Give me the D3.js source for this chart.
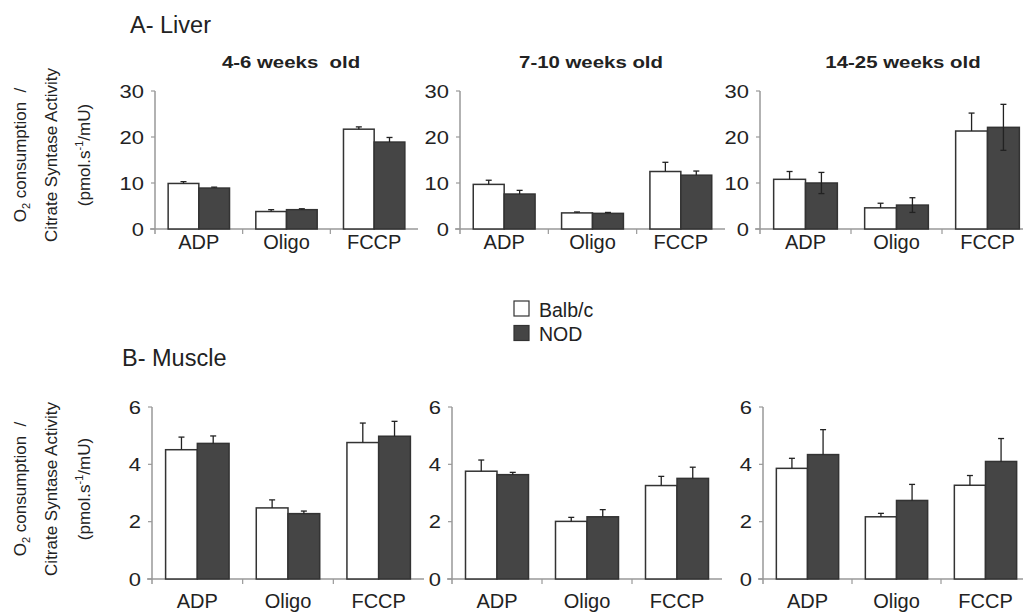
<!DOCTYPE html>
<html>
<head>
<meta charset="utf-8">
<script src="https://cdn.jsdelivr.net/npm/d3@7"></script>
<style>
  body { margin: 0; background: #fff; }
  svg { font-family: "Liberation Sans", Arial, sans-serif; }
</style>
</head>
<body>
<svg id="chart" width="1023" height="613"></svg>
<script>
// categories / groups
const categories = ['ADP', 'Oligo', 'FCCP'];
const groups = ['Balb/c', 'NOD'];
const ageTitles = ['4-6 weeks  old', '7-10 weeks old', '14-25 weeks old'];

// A- Liver (one row per age group)
const liverBalb    = [[9.9, 3.8, 21.7], [9.7, 3.5, 12.5], [10.8, 4.6, 21.3]];
const liverBalbErr = [[0.4, 0.4, 0.5],  [0.9, 0.2, 2.0],  [1.7, 1.0, 3.9]];
const liverNod     = [[8.9, 4.2, 18.9], [7.6, 3.4, 11.7], [10.0, 5.2, 22.1]];
const liverNodErr  = [[0.2, 0.2, 1.0],  [0.8, 0.2, 0.9],  [2.3, 1.6, 5.0]];
const liverTicks = [0, 10, 20, 30];

// B- Muscle
const muscleBalb    = [[4.51, 2.48, 4.76], [3.76, 2.01, 3.26], [3.86, 2.17, 3.27]];
const muscleBalbErr = [[0.44, 0.28, 0.68], [0.39, 0.14, 0.32], [0.35, 0.12, 0.34]];
const muscleNod     = [[4.73, 2.28, 4.98], [3.64, 2.17, 3.51], [4.34, 2.74, 4.10]];
const muscleNodErr  = [[0.26, 0.09, 0.52], [0.08, 0.25, 0.39], [0.87, 0.56, 0.80]];
const muscleTicks = [0, 2, 4, 6];

const svg = d3.select('#chart');
const TEXT = '#222';
const AXIS = '#999';
const DARK = '#454545';

// text that is a bit wider than the font (the figure is stretched sideways)
function label(sel, x, y, str, size, opts) {
  opts = opts || {};
  return sel.append('text')
    .attr('transform', 'translate(' + x + ',' + y + ') scale(' + (opts.sx || 1) + ',1)')
    .attr('text-anchor', opts.anchor || 'start')
    .attr('font-size', size)
    .attr('font-weight', opts.bold ? 'bold' : 'normal')
    .attr('fill', TEXT)
    .style('white-space', 'pre')
    .text(str);
}

// panel placement
const rows = [
  {
    title: 'A- Liver', titleX: 130, titleY: 33, ymax: 30, ticks: liverTicks,
    y0: 229, y1: 91, labelY: 249, yTitleC: 155,
    x0: [155, 460, 760], w: [263, 265, 273],
    balb: liverBalb, balbErr: liverBalbErr, nod: liverNod, nodErr: liverNodErr,
    twoSided: [false, false, true], showTitles: true
  },
  {
    title: 'B- Muscle', titleX: 122, titleY: 366, ymax: 6, ticks: muscleTicks,
    y0: 579, y1: 407, labelY: 608, yTitleC: 489,
    x0: [152, 452, 763], w: [272, 270, 267],
    balb: muscleBalb, balbErr: muscleBalbErr, nod: muscleNod, nodErr: muscleNodErr,
    twoSided: [false, false, false], showTitles: false
  }
];

rows.forEach((row) => {
  label(svg, row.titleX, row.titleY, row.title, 23.5);

  // y axis title (3 rotated lines)
  const yTitle = [
    {x: 26, t: 'o2'},
    {x: 57, t: 'Citrate Syntase Activity'},
    {x: 90, t: 'unit'}
  ];
  yTitle.forEach((l) => {
    const t = svg.append('text')
      .attr('transform', 'translate(' + l.x + ',' + row.yTitleC + ') rotate(-90)')
      .attr('text-anchor', 'middle')
      .attr('font-size', 17)
      .attr('fill', TEXT)
      .style('white-space', 'pre');
    if (l.t === 'o2') {
      t.append('tspan').text('O');
      t.append('tspan').attr('font-size', 11).attr('dy', 4).text('2');
      t.append('tspan').attr('dy', -4).text(' consumption  /');
    } else if (l.t === 'unit') {
      t.append('tspan').text('(pmol.s');
      t.append('tspan').attr('font-size', 11).attr('dy', -7).text('-1');
      t.append('tspan').attr('dy', 7).text('/mU)');
    } else {
      t.text(l.t);
    }
  });

  for (let p = 0; p < 3; p++) {
    const left = row.x0[p];
    const sx = d3.scaleBand().domain(categories).range([left, left + row.w[p]]);
    const sy = d3.scaleLinear().domain([0, row.ymax]).range([row.y0, row.y1]);
    const g = svg.append('g');
    const bw = sx.bandwidth() * 0.35;

    if (row.showTitles) {
      label(g, left + [136, 131, 143][p], 68, ageTitles[p], 17, {anchor: 'middle', bold: true, sx: 1.2});
    }

    // axes
    g.append('line')
      .attr('x1', left).attr('x2', left)
      .attr('y1', sy(row.ymax)).attr('y2', row.y0 + 5)
      .attr('stroke', AXIS).attr('stroke-width', 1.5);
    g.append('line')
      .attr('x1', left - 5).attr('x2', left + row.w[p])
      .attr('y1', row.y0).attr('y2', row.y0)
      .attr('stroke', AXIS).attr('stroke-width', 1.5);
    g.selectAll('.ytick')
      .data(row.ticks)
      .enter()
      .append('line')
      .attr('x1', left - 4).attr('x2', left)
      .attr('y1', (d) => sy(d)).attr('y2', (d) => sy(d))
      .attr('stroke', AXIS).attr('stroke-width', 1.2);
    row.ticks.forEach((d) => {
      label(g, left - 11, sy(d) + 6.5, String(d), 18, {anchor: 'end', sx: 1.22});
    });
    g.selectAll('.xtick')
      .data(categories.slice(1))
      .enter()
      .append('line')
      .attr('x1', (d) => sx(d)).attr('x2', (d) => sx(d))
      .attr('y1', row.y0).attr('y2', row.y0 + 5)
      .attr('stroke', AXIS).attr('stroke-width', 1.2);
    categories.forEach((c) => {
      label(g, sx(c) + sx.bandwidth() / 2, row.labelY, c, 20, {anchor: 'middle'});
    });

    // bars
    const series = [
      {vals: row.balb[p], errs: row.balbErr[p], fill: '#fff', off: -1, both: false},
      {vals: row.nod[p], errs: row.nodErr[p], fill: DARK, off: 0, both: row.twoSided[p]}
    ];
    series.forEach((s) => {
      const data = categories.map((c, i) => ({cat: c, v: s.vals[i], e: s.errs[i]}));
      const bx = (d) => sx(d.cat) + sx.bandwidth() / 2 + s.off * bw;
      g.selectAll(null)
        .data(data)
        .enter()
        .append('rect')
        .attr('x', bx)
        .attr('y', (d) => sy(d.v))
        .attr('width', bw)
        .attr('height', (d) => row.y0 - sy(d.v))
        .attr('fill', s.fill)
        .attr('stroke', '#333')
        .attr('stroke-width', 1.5);
      g.selectAll(null)
        .data(data)
        .enter()
        .append('line')
        .attr('x1', (d) => bx(d) + bw / 2).attr('x2', (d) => bx(d) + bw / 2)
        .attr('y1', (d) => sy(s.both ? d.v - d.e : d.v))
        .attr('y2', (d) => sy(d.v + d.e))
        .attr('stroke', '#222').attr('stroke-width', 1.3);
      g.selectAll(null)
        .data(data)
        .enter()
        .append('line')
        .attr('x1', (d) => bx(d) + bw / 2 - 3).attr('x2', (d) => bx(d) + bw / 2 + 3)
        .attr('y1', (d) => sy(d.v + d.e)).attr('y2', (d) => sy(d.v + d.e))
        .attr('stroke', '#222').attr('stroke-width', 1.3);
      if (s.both) {
        g.selectAll(null)
          .data(data)
          .enter()
          .append('line')
          .attr('x1', (d) => bx(d) + bw / 2 - 3).attr('x2', (d) => bx(d) + bw / 2 + 3)
          .attr('y1', (d) => sy(d.v - d.e)).attr('y2', (d) => sy(d.v - d.e))
          .attr('stroke', '#222').attr('stroke-width', 1.3);
      }
    });
  }
});

// legend
const legend = svg.append('g').attr('transform', 'translate(514,301)');
legend.selectAll('rect')
  .data(groups)
  .enter()
  .append('rect')
  .attr('x', 0)
  .attr('y', (d, i) => i * 24.5)
  .attr('width', 15)
  .attr('height', 15)
  .attr('fill', (d, i) => i === 0 ? '#fff' : DARK)
  .attr('stroke', '#333')
  .attr('stroke-width', 1.2);
groups.forEach((d, i) => {
  label(legend, 25, i * 24.5 + 15.5, d, 19.5);
});
</script>
</body>
</html>
